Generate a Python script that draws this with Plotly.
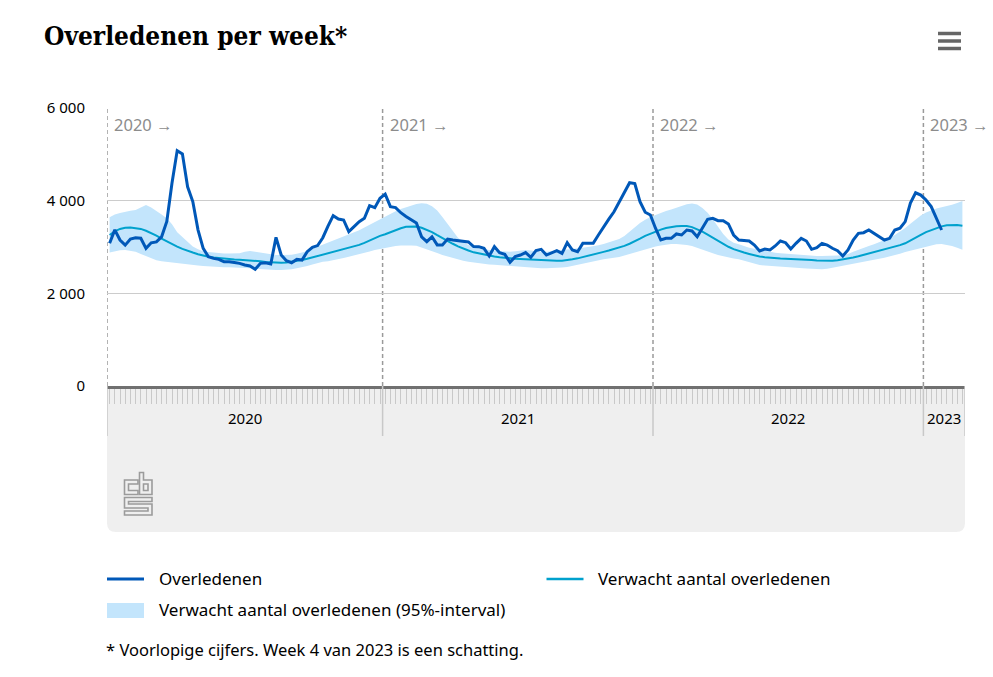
import plotly.graph_objects as go

# ---------------- data ----------------
years = [2020, 2021, 2022, 2023]
weeks_in_year = [53, 52, 52, 8]
year_labels_top = ["2020 →", "2021 →", "2022 →", "2023 →"]
year_labels_bottom = ["2020", "2021", "2022", "2023"]

deaths_2020 = [3080, 3370, 3150, 3040, 3170, 3200, 3190, 2970, 3090, 3110,
               3220, 3550, 4380, 5080, 5010, 4300, 3980, 3370, 2970, 2790,
               2755, 2733, 2683, 2683, 2665, 2647, 2611, 2590, 2518, 2647,
               2661, 2633, 3208, 2827, 2705, 2661, 2733, 2719, 2898, 2993,
               3030, 3200, 3450, 3676, 3604, 3583, 3331, 3439, 3547, 3619,
               3892, 3849, 4051]
deaths_2021 = [4140, 3870, 3850, 3740, 3660, 3590, 3520, 3220, 3115, 3220,
               3045, 3045, 3170, 3150, 3140, 3135, 3110, 3010, 3007, 2970,
               2806, 3007, 2877, 2842, 2669, 2791, 2827, 2880, 2777, 2921,
               2950, 2827, 2877, 2921, 2863, 3093, 2935, 2899, 3079, 3079,
               3079, 3259, 3440, 3600, 3760, 3960, 4170, 4388, 4370, 3980,
               3750, 3690]
deaths_2022 = [3400, 3151, 3187, 3187, 3281, 3259, 3367, 3346, 3223, 3404,
               3597, 3619, 3568, 3568, 3497, 3259, 3151, 3140, 3129, 3043,
               2914, 2957, 2935, 3022, 3129, 3093, 2957, 3079, 3187, 3129,
               2950, 2986, 3079, 3043, 2972, 2921, 2806, 2935, 3151, 3295,
               3309, 3367, 3295, 3223, 3151, 3187, 3367, 3404, 3547, 3950,
               4170, 4120]
deaths_2023 = [4015, 3871, 3619, 3367]

expected_2020 = [3260, 3340, 3390, 3415, 3420, 3410, 3390, 3350, 3300, 3245,
                 3180, 3120, 3065, 3010, 2960, 2915, 2880, 2845, 2815, 2790,
                 2775, 2760, 2750, 2740, 2730, 2725, 2720, 2710, 2700, 2690,
                 2675, 2665, 2660, 2660, 2665, 2680, 2700, 2720, 2745, 2775,
                 2800, 2830, 2865, 2900, 2930, 2955, 2980, 3010, 3045, 3090,
                 3140, 3195, 3240]
expected_2021 = [3275, 3320, 3365, 3405, 3435, 3445, 3440, 3415, 3375, 3320,
                 3255, 3190, 3125, 3070, 3015, 2965, 2925, 2885, 2860, 2835,
                 2810, 2795, 2780, 2765, 2755, 2745, 2740, 2733, 2725, 2715,
                 2708, 2705, 2703, 2703, 2705, 2715, 2735, 2755, 2780, 2805,
                 2835, 2865, 2895, 2925, 2955, 2985, 3025, 3070, 3120, 3180,
                 3240, 3290]
expected_2022 = [3330, 3375, 3410, 3435, 3450, 3455, 3455, 3430, 3385, 3330,
                 3265, 3200, 3135, 3065, 3005, 2955, 2910, 2880, 2850, 2815,
                 2795, 2780, 2765, 2755, 2750, 2748, 2745, 2743, 2740, 2730,
                 2720, 2710, 2705, 2703, 2705, 2715, 2730, 2755, 2775, 2800,
                 2830, 2860, 2885, 2910, 2940, 2970, 3005, 3040, 3080, 3135,
                 3195, 3260]
expected_2023 = [3320, 3365, 3400, 3445, 3470, 3475, 3475, 3460]

upper_2020 = [3640, 3700, 3735, 3765, 3780, 3800, 3860, 3905, 3850, 3780,
              3700, 3620, 3490, 3320, 3210, 3110, 3010, 2950, 2910, 2890,
              2875, 2865, 2860, 2860, 2860, 2865, 2895, 2915, 2900, 2880,
              2850, 2830, 2825, 2825, 2825, 2835, 2855, 2880, 2910, 2960,
              3005, 3045, 3085, 3125, 3170, 3215, 3260, 3310, 3360, 3420,
              3480, 3540, 3600]
upper_2021 = [3650, 3710, 3770, 3820, 3860, 3900, 3930, 3945, 3935, 3880,
              3790, 3650, 3500, 3330, 3200, 3110, 3045, 3010, 2980, 2955,
              2935, 2920, 2910, 2900, 2900, 2910, 2925, 2935, 2925, 2910,
              2900, 2900, 2910, 2920, 2930, 2940, 2955, 2970, 2985, 3000,
              3015, 3040, 3065, 3095, 3130, 3170, 3240, 3340, 3430, 3520,
              3590, 3650]
upper_2022 = [3690, 3740, 3775, 3810, 3850, 3890, 3925, 3940, 3915, 3840,
              3740, 3600, 3430, 3280, 3160, 3090, 3060, 3020, 2985, 2960,
              2935, 2910, 2890, 2875, 2865, 2855, 2848, 2840, 2830, 2820,
              2812, 2808, 2806, 2806, 2810, 2815, 2825, 2850, 2900, 2945,
              2985, 3020, 3060, 3100, 3145, 3195, 3260, 3330, 3410, 3500,
              3590, 3680]
upper_2023 = [3745, 3790, 3830, 3860, 3880, 3910, 3950, 3995]

lower_2020 = [2880, 2905, 2930, 2935, 2920, 2895, 2850, 2800, 2750, 2715,
              2695, 2680, 2660, 2645, 2630, 2620, 2610, 2600, 2590, 2580,
              2575, 2570, 2565, 2562, 2560, 2555, 2548, 2540, 2530, 2520,
              2510, 2505, 2502, 2502, 2505, 2520, 2540, 2560, 2590, 2625,
              2660, 2680, 2695, 2712, 2730, 2760, 2790, 2815, 2845, 2875,
              2905, 2935, 2960]
lower_2021 = [2980, 3000, 3020, 3030, 3035, 3035, 3025, 2990, 2945, 2905,
              2870, 2830, 2795, 2765, 2735, 2705, 2683, 2665, 2650, 2635,
              2625, 2615, 2605, 2600, 2595, 2590, 2580, 2570, 2555, 2545,
              2540, 2540, 2542, 2548, 2555, 2570, 2595, 2620, 2645, 2670,
              2695, 2715, 2735, 2750, 2765, 2785, 2815, 2850, 2885, 2920,
              2955, 2985]
lower_2022 = [3010, 3030, 3050, 3065, 3065, 3060, 3045, 3020, 2985, 2945,
              2905, 2865, 2825, 2795, 2770, 2750, 2733, 2700, 2665, 2635,
              2611, 2600, 2590, 2580, 2572, 2565, 2558, 2550, 2542, 2535,
              2528, 2522, 2518, 2530, 2550, 2570, 2590, 2610, 2630, 2650,
              2670, 2695, 2720, 2745, 2770, 2795, 2820, 2855, 2890, 2920,
              2950, 2985]
lower_2023 = [3015, 3040, 3060, 3065, 3050, 3020, 2985, 2940]

y_tick_values = [0, 2000, 4000, 6000]
y_tick_labels = ["0", "2 000", "4 000", "6 000"]

# ---------------- derived ----------------
deaths = deaths_2020 + deaths_2021 + deaths_2022 + deaths_2023
expected = expected_2020 + expected_2021 + expected_2022 + expected_2023
upper = upper_2020 + upper_2021 + upper_2022 + upper_2023
lower = lower_2020 + lower_2021 + lower_2022 + lower_2023

n_weeks = sum(weeks_in_year)
x_all = list(range(n_weeks))
x_deaths = x_all[:len(deaths)]
week_names = [f"{y} week {w}" for y, n in zip(years, weeks_in_year) for w in range(1, n + 1)]

year_start = []
acc = 0
for n in weeks_in_year:
    year_start.append(acc - 0.5)
    acc += n
x_end = acc - 0.5

W, H = 993, 677
L, R, T, B = 107, 28, 108, 291
plot_h = H - T - B


def px(x):
    return (x - L) / (W - L - R)


def py(y):
    return (H - B - y) / plot_h


DARK = "#0058b8"
CYAN = "#00a1cd"
BAND = "#c3e5fc"
FONT = "Noto Sans, Open Sans, sans-serif"

fig = go.Figure()
fig.add_trace(go.Scatter(x=x_all, y=lower, mode="lines", line=dict(width=0, color=BAND),
                         hoverinfo="skip", showlegend=False, text=week_names))
fig.add_trace(go.Scatter(x=x_all, y=upper, mode="lines", line=dict(width=0, color=BAND),
                         fill="tonexty", fillcolor=BAND,
                         name="Verwacht aantal overledenen (95%-interval)", text=week_names,
                         showlegend=False))
fig.add_trace(go.Scatter(x=x_all, y=expected, mode="lines", line=dict(width=2, color=CYAN),
                         name="Verwacht aantal overledenen", text=week_names, showlegend=False))
fig.add_trace(go.Scatter(x=x_deaths, y=deaths, mode="lines", line=dict(width=3, color=DARK),
                         name="Overledenen", text=week_names[:len(deaths)], showlegend=False))

shapes = []
# grey footer box with rounded bottom corners
x0, x1 = px(107), px(965)
yt, yb = py(386), py(532)
rx, ry = 9 / (W - L - R), 9 / plot_h
shapes.append(dict(type="path", xref="paper", yref="paper", layer="below",
                   path=(f"M {x0},{yt} L {x1},{yt} L {x1},{yb + ry} Q {x1},{yb} {x1 - rx},{yb} "
                         f"L {x0 + rx},{yb} Q {x0},{yb} {x0},{yb + ry} Z"),
                   fillcolor="#efefef", line=dict(width=0)))

# dashed year separators in plot
for b in year_start:
    shapes.append(dict(type="line", xref="x", yref="paper", x0=b, x1=b, y0=0, y1=1,
                       line=dict(color="#9a9a9a", width=1.5, dash="4px,3px"), layer="below"))
# year dividers in footer
for b in year_start + [x_end]:
    shapes.append(dict(type="line", xref="x", yref="paper", x0=b, x1=b, y0=0, y1=py(436),
                       line=dict(color="#c8c8c8", width=1.5), layer="above"))

# CBS logo
logo_paths = [
    "M 138,480 H 124.5 V 494.5 H 138 V 490.5 H 128.5 V 484 H 138 Z",
    "M 139.5,472.5 H 143.5 V 480 H 152 V 494.5 H 139.5 Z",
    "M 143.5,484 H 148 V 490.5 H 143.5 Z",
    "M 124.5,497.5 H 152 V 501.5 H 128.5 V 504 H 152 V 515 H 124.5 V 511 H 148 V 508 H 124.5 Z",
]


def conv_path(p):
    out = []
    toks = p.replace(",", " ").split()
    i = 0
    cx = cy = 0
    while i < len(toks):
        t = toks[i]
        if t in ("M", "L"):
            cx, cy = float(toks[i + 1]), float(toks[i + 2])
            out.append(f"{t} {px(cx)},{py(cy)}")
            i += 3
        elif t == "H":
            cx = float(toks[i + 1])
            out.append(f"L {px(cx)},{py(cy)}")
            i += 2
        elif t == "V":
            cy = float(toks[i + 1])
            out.append(f"L {px(cx)},{py(cy)}")
            i += 2
        elif t == "Z":
            out.append("Z")
            i += 1
        else:
            i += 1
    return " ".join(out)


for p in logo_paths:
    shapes.append(dict(type="path", xref="paper", yref="paper", path=conv_path(p),
                       line=dict(color="#9b9b9b", width=1.6), fillcolor="rgba(0,0,0,0)"))

# hamburger menu icon
for yy in [33.5, 41, 48.5]:
    shapes.append(dict(type="line", xref="paper", yref="paper", x0=px(938), x1=px(961),
                       y0=py(yy), y1=py(yy), line=dict(color="#666666", width=3.5)))

# legend symbols
shapes.append(dict(type="line", xref="paper", yref="paper", x0=px(107), x1=px(144),
                   y0=py(579), y1=py(579), line=dict(color=DARK, width=3)))
shapes.append(dict(type="line", xref="paper", yref="paper", x0=px(546.5), x1=px(583.5),
                   y0=py(579), y1=py(579), line=dict(color=CYAN, width=2.5)))
shapes.append(dict(type="rect", xref="paper", yref="paper", x0=px(107), x1=px(144),
                   y0=py(603), y1=py(618), fillcolor=BAND, line=dict(width=0)))

annotations = []
# title
annotations.append(dict(text="<b>Overledenen per week*</b>", xref="paper", yref="paper",
                        x=px(42), y=py(36), xanchor="left", yanchor="middle", showarrow=False,
                        font=dict(family="DejaVu Serif Condensed, DejaVu Serif, serif", size=26,
                                  color="#000000")))
# top year labels
for b, lab in zip(year_start, year_labels_top):
    annotations.append(dict(text=lab, x=b, xref="x", y=py(124), yref="paper", xanchor="left",
                            yanchor="middle", xshift=5, showarrow=False,
                            font=dict(family=FONT, size=16.5, color="#8c8c8c")))
# bottom year labels
for b, n, lab in zip(year_start, weeks_in_year, year_labels_bottom):
    annotations.append(dict(text=lab, x=b + n / 2, xref="x", y=py(418), yref="paper",
                            xanchor="center", yanchor="middle", showarrow=False,
                            font=dict(family=FONT, size=15, color="#000000")))
# legend texts
annotations.append(dict(text="Overledenen", xref="paper", yref="paper", x=px(157), y=py(578),
                        xanchor="left", yanchor="middle", showarrow=False,
                        font=dict(family=FONT, size=17, color="#000000")))
annotations.append(dict(text="Verwacht aantal overledenen", xref="paper", yref="paper", x=px(596),
                        y=py(578), xanchor="left", yanchor="middle", showarrow=False,
                        font=dict(family=FONT, size=17, color="#000000")))
annotations.append(dict(text="Verwacht aantal overledenen (95%-interval)", xref="paper",
                        yref="paper", x=px(157), y=py(609), xanchor="left", yanchor="middle",
                        showarrow=False, font=dict(family=FONT, size=17, color="#000000")))
annotations.append(dict(text="* Voorlopige cijfers. Week 4 van 2023 is een schatting.",
                        xref="paper", yref="paper", x=px(104), y=py(649), xanchor="left",
                        yanchor="middle", showarrow=False,
                        font=dict(family=FONT, size=16.5, color="#000000")))

fig.update_layout(
    width=W, height=H, autosize=False,
    margin=dict(l=L, r=R, t=T, b=B, pad=0),
    paper_bgcolor="white", plot_bgcolor="white",
    showlegend=False,
    shapes=shapes, annotations=annotations,
    xaxis=dict(range=[year_start[0], x_end], showgrid=False, zeroline=False,
               showline=True, linecolor="#707070", linewidth=2.5,
               ticks="outside", tickvals=x_all, ticklen=15, tickwidth=1,
               tickcolor="#c9c9c9", showticklabels=False, fixedrange=True),
    yaxis=dict(range=[0, 6000], tickvals=y_tick_values, ticktext=y_tick_labels,
               showgrid=True, gridcolor="#cccccc", gridwidth=1, zeroline=False,
               showline=False, ticks="", ticklabelstandoff=21,
               tickfont=dict(family=FONT, size=15, color="#000000"), fixedrange=True),
    hovermode=False,
)

fig.write_html("out.html", config={"displayModeBar": False},
               post_script="document.body.style.margin='0';")
